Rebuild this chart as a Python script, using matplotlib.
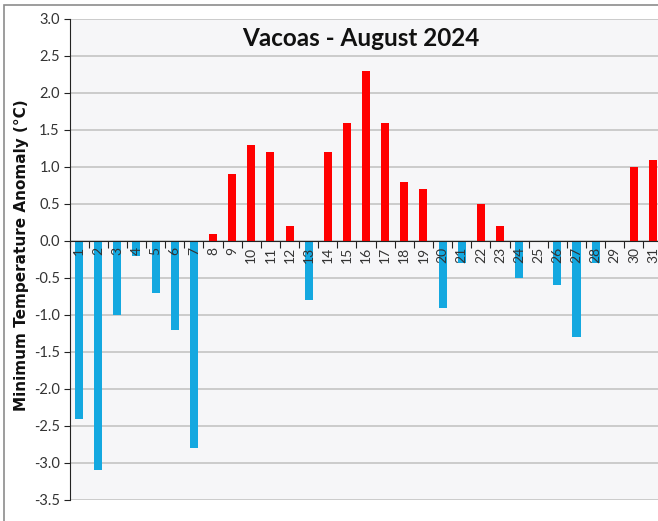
import matplotlib
matplotlib.use("Agg")
import matplotlib.pyplot as plt
from matplotlib.patches import Rectangle

days = list(range(1, 32))
day_labels = [str(d) for d in days]
anomaly = [-2.4, -3.1, -1.0, -0.2, -0.7, -1.2, -2.8, 0.1, 0.9, 1.3,
           1.2, 0.2, -0.8, 1.2, 1.6, 2.3, 1.6, 0.8, 0.7, -0.9,
           -0.3, 0.5, 0.2, -0.5, 0.0, -0.6, -1.3, -0.3, 0.0, 1.0, 1.1]
y_ticks = [3.0, 2.5, 2.0, 1.5, 1.0, 0.5, 0.0, -0.5, -1.0, -1.5, -2.0, -2.5, -3.0, -3.5]

title = "Vacoas - August 2024"
ylabel = "Minimum Temperature Anomaly (°C)"

RED = "#ff0000"
BLUE = "#14a8e0"
FONT = ["Lato", "DejaVu Sans"]

W, H = 658, 521
fig = plt.figure(figsize=(W / 100, H / 100), dpi=100)
fig.patch.set_facecolor("white")

# outer chart border
fig.patches.append(Rectangle((4 / W, -0.05), 1.1, 1 - 5 / H + 0.05,
                             transform=fig.transFigure, fill=False,
                             edgecolor="#8c8c8c", linewidth=1.2))

left = 69.5 / W
right = 662.6 / W
bottom = (H - 500) / H
top = (H - 19) / H
ax = fig.add_axes([left, bottom, right - left, top - bottom])
ax.set_facecolor("#f6f6f8")

colors = [RED if v > 0 else BLUE for v in anomaly]
ax.bar(days, anomaly, width=0.42, color=colors, zorder=3)

ax.set_xlim(0.5, 31.5)
ax.set_ylim(-3.5, 3.0)
ax.set_yticks(y_ticks)
ax.set_yticklabels([f"{t:.1f}" for t in y_ticks])
ax.yaxis.grid(True, color="#c4c4c4", linewidth=1.2)
ax.set_axisbelow(True)
ax.xaxis.set_zorder(5)

ax.spines["top"].set_visible(False)
ax.spines["right"].set_visible(False)
ax.spines["bottom"].set_position(("data", 0))
ax.spines["bottom"].set_color("#222222")
ax.spines["left"].set_color("#222222")
ax.spines["bottom"].set_zorder(5)

ax.set_xticks([d + 0.5 for d in range(0, 32)])
ax.set_xticklabels([])
ax.set_xticks(days, minor=True)
ax.set_xticklabels(day_labels, minor=True, rotation=90, va="top", ha="center",
                   fontsize=10, color="#333333", family=FONT)
ax.tick_params(axis="x", which="major", direction="out", length=5, color="#222222")
ax.tick_params(axis="x", which="minor", length=0, pad=4)
ax.tick_params(axis="y", direction="out", length=4, color="#222222", labelsize=10.5,
               labelcolor="#333333", pad=3)
for lab in ax.get_yticklabels():
    lab.set_family(FONT)

fig.text(22 / W, 1 - 255 / H, ylabel, rotation=90, ha="center", va="center",
         fontsize=11, fontweight="bold", color="#111111")

fig.text(361 / W, 1 - 38 / H, title, ha="center", va="center", fontsize=17.5,
         fontweight="bold", color="#111111", family=FONT)

fig.savefig("out.png", dpi=100)
